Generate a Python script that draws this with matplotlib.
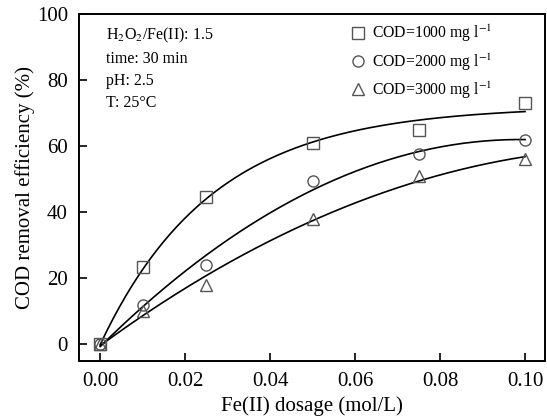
import numpy as np
import matplotlib
matplotlib.use("Agg")
import matplotlib.pyplot as plt
from matplotlib.lines import Line2D

plt.rcParams["font.family"] = ["Liberation Serif", "DejaVu Serif"]
plt.rcParams["mathtext.fontset"] = "stix"

# Fe(II) dosage (mol/L)
dosage = [0.0, 0.01, 0.025, 0.05, 0.075, 0.10]

# COD removal efficiency (%)
cod_1000 = [0.0, 23.5, 44.5, 61.0, 65.0, 73.0]
cod_2000 = [0.0, 12.0, 24.0, 49.5, 57.5, 62.0]
cod_3000 = [0.0, 10.0, 18.0, 38.0, 51.0, 56.0]

labels = ["COD=1000 mg l$^{-1}$", "COD=2000 mg l$^{-1}$",
          "COD=3000 mg l$^{-1}$"]
markers = ["s", "o", "^"]
fit_kind = ["exp", "poly2", "poly2"]

conditions = ["H$_2$O$_2$/Fe(II): 1.5", "time: 30 min", "pH: 2.5",
              "T: 25\u00b0C"]


def fit_saturation(x, y):
    # least squares fit of y = a*(1 - exp(-b*x)), grid over b
    x = np.asarray(x)
    y = np.asarray(y)
    best = None
    for b in np.linspace(1, 120, 3000):
        f = 1 - np.exp(-b * x)
        a = np.sum(y * f) / np.sum(f * f)
        err = np.sum((y - a * f) ** 2)
        if best is None or err < best[0]:
            best = (err, a, b)
    return best[1], best[2]


def fitted_curve(x, y, kind, xs):
    if kind == "exp":
        a, b = fit_saturation(x, y)
        return a * (1 - np.exp(-b * xs))
    return np.polyval(np.polyfit(x, y, 2), xs)


fig = plt.figure(figsize=(5.47, 4.19), dpi=100)
ax = fig.add_axes([79 / 547, 1 - 361 / 419, (545 - 79) / 547, (361 - 14) / 419])

xs = np.linspace(0, max(dosage), 200)
for ys, m, kind in zip([cod_1000, cod_2000, cod_3000], markers, fit_kind):
    ax.plot(xs, fitted_curve(dosage, ys, kind, xs), color="black", lw=1.2,
            zorder=2)
    ax.plot(dosage, ys, linestyle="none", marker=m, markersize=8,
            markerfacecolor="none", markeredgecolor="#555555",
            markeredgewidth=1.0, zorder=3)

ax.set_xlim(-0.005, 0.1047)
ax.set_ylim(-5, 100)
ax.set_xticks([0.0, 0.02, 0.04, 0.06, 0.08, 0.10])
ax.set_xticklabels(["0.00", "0.02", "0.04", "0.06", "0.08", "0.10"])
ax.set_yticks([0, 20, 40, 60, 80, 100])
ax.tick_params(direction="in", length=6, width=1.2, labelsize=15,
               top=False, right=False)
ax.tick_params(axis="x", pad=8)
ax.tick_params(axis="y", pad=8)
for s in ax.spines.values():
    s.set_linewidth(1.4)

ax.set_xlabel("Fe(II) dosage (mol/L)", fontsize=15)
ax.set_ylabel("COD removal efficiency (%)", fontsize=15, labelpad=1)

ax.text(0.058, 0.965, "\n".join(conditions), transform=ax.transAxes,
        fontsize=11.5, va="top", ha="left", linespacing=1.5)

handles = [Line2D([], [], linestyle="none", marker=m, markersize=8,
                  markerfacecolor="none", markeredgecolor="#555555",
                  markeredgewidth=1.0) for m in markers]
ax.legend(handles, labels, loc="upper left", bbox_to_anchor=(0.552, 1.015),
          frameon=False, fontsize=11.3, handlelength=1.0,
          handletextpad=0.35, labelspacing=0.45)

fig.savefig("out.png", dpi=100)
